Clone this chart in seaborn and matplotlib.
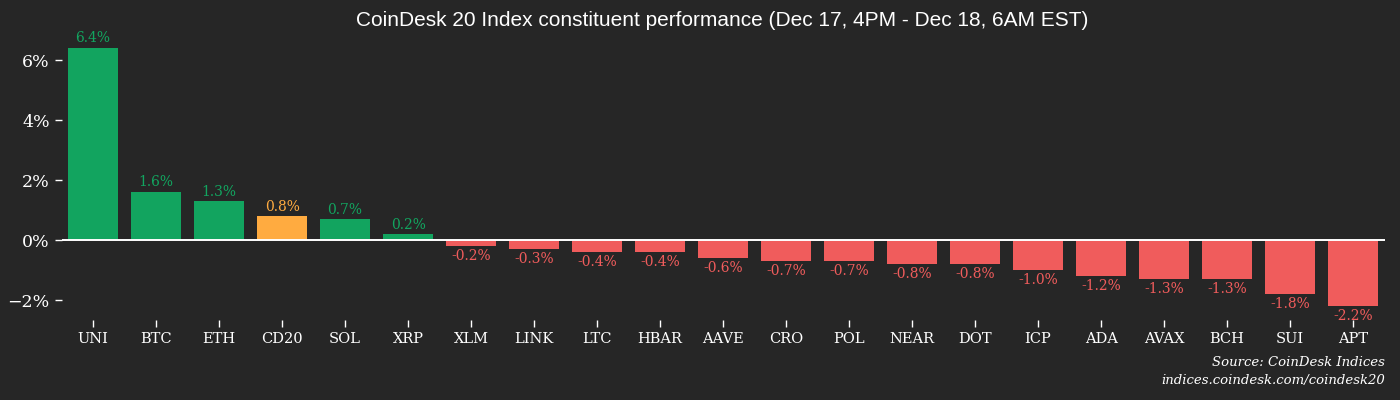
import numpy as np
import pandas as pd
import matplotlib
matplotlib.use("Agg")
import matplotlib.pyplot as plt
import seaborn as sns

# data (percent change)
tickers = ["UNI", "BTC", "ETH", "CD20", "SOL", "XRP", "XLM", "LINK", "LTC", "HBAR", "AAVE",
           "CRO", "POL", "NEAR", "DOT", "ICP", "ADA", "AVAX", "BCH", "SUI", "APT"]
changes = [6.4, 1.6, 1.3, 0.8, 0.7, 0.2, -0.2, -0.3, -0.4, -0.4, -0.6,
           -0.7, -0.7, -0.8, -0.8, -1.0, -1.2, -1.3, -1.3, -1.8, -2.2]
index_name = "CD20"

GREEN = "#12a45f"
RED = "#f05c5c"
ORANGE = "#ffab40"
BG = "#262626"

df = pd.DataFrame({"ticker": tickers, "change": changes})
colors = [ORANGE if t == index_name else (GREEN if v >= 0 else RED)
          for t, v in zip(df["ticker"], df["change"])]

sns.set_style("dark")
plt.rcParams["font.family"] = ["DejaVu Serif"]

fig = plt.figure(figsize=(14, 4), dpi=100, facecolor=BG)
ax = fig.add_axes([0.044, 0.2, 0.945, 0.71])
ax.set_facecolor(BG)

sns.barplot(data=df, x="ticker", y="change", hue="ticker", palette=colors,
            legend=False, width=0.79, saturation=1, edgecolor="none",
            linewidth=0, ax=ax)

# value labels in bar colour
for cont, col in zip(ax.containers, colors):
    ax.bar_label(cont, labels=[f"{b.get_height():.1f}%" for b in cont],
                 padding=2, color=col, fontsize=10)

ax.axhline(0, color="white", lw=1.4)
ax.set_xlim(-0.5, len(tickers) - 0.5)
ax.set_ylim(-2.65, 6.8)
ax.set_yticks([-2, 0, 2, 4, 6])
ax.set_yticklabels(["\u22122%", "0%", "2%", "4%", "6%"])
ax.tick_params(axis="y", colors="white", labelsize=12.5, length=5, width=1, left=True)
ax.tick_params(axis="x", colors="white", labelsize=10.5, length=5, width=1, bottom=True)
ax.set_xlabel("")
ax.set_ylabel("")
ax.grid(False)
for s in ax.spines.values():
    s.set_visible(False)

fig.suptitle("CoinDesk 20 Index constituent performance (Dec 17, 4PM - Dec 18, 6AM EST)",
             x=0.516, y=0.972, color="white", fontsize=15, family="Liberation Sans")
fig.text(0.989, 0.093, "Source: CoinDesk Indices", ha="right", va="center",
         color="white", fontsize=9.5, style="italic")
fig.text(0.989, 0.048, "indices.coindesk.com/coindesk20", ha="right", va="center",
         color="white", fontsize=9.5, style="italic")

fig.savefig("out.png", dpi=100, facecolor=BG)
